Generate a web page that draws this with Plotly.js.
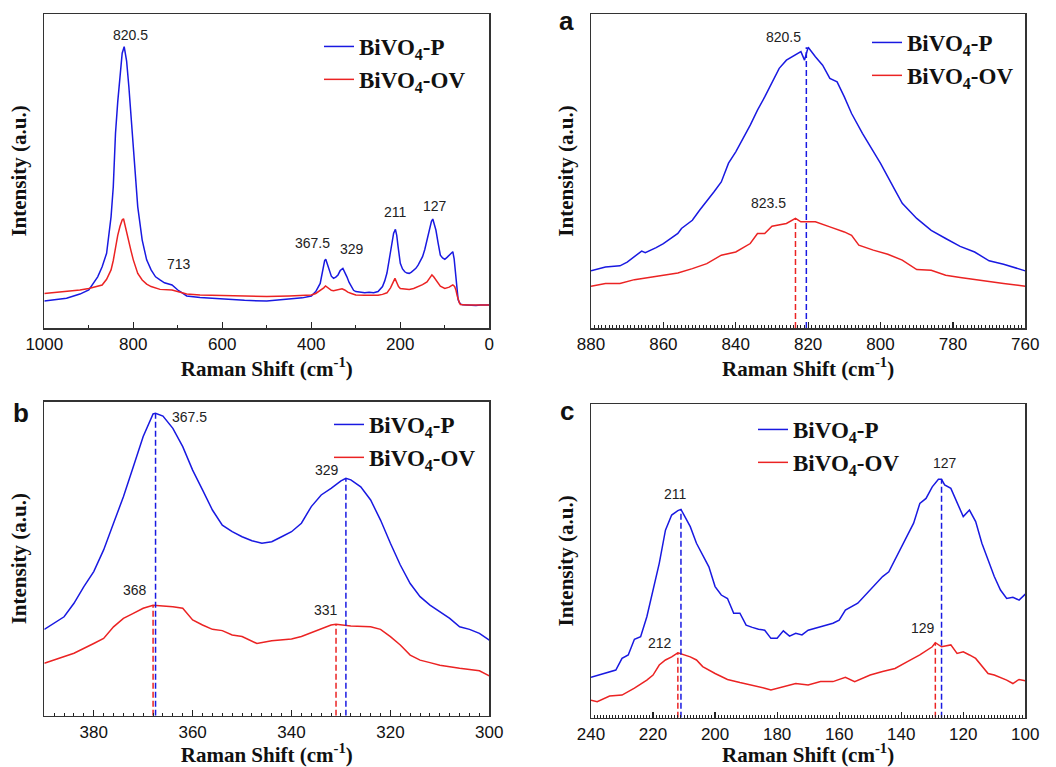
<!DOCTYPE html>
<html>
<head>
<meta charset="utf-8">
<script src="https://cdn.plot.ly/plotly-3.0.1.min.js"></script>
<style>html,body{margin:0;padding:0;background:#fff;}#chart{width:1056px;height:767px;}</style>
</head>
<body>
<div id="chart"></div>
<script>
// ---------- Data ----------
const seriesNames = ['BiVO<sub>4</sub>-P', 'BiVO<sub>4</sub>-OV'];

// Full spectrum (top-left)
const fullXP = [1000,950,920,900,880,870,860,850,845,840,835,830,825,820.5,815,810,805,800,795,790,780,770,760,750,740,730,713,700,690,680,650,600,550,500,450,420,400,390,380,375,370,367.5,362,355,350,345,340,335,329,325,320,315,310,305,300,290,280,270,260,250,240,235,230,225,220,215,211,208,205,200,195,190,185,180,175,170,165,160,155,150,145,140,135,130,127,124,120,115,110,105,100,95,90,85,82,79,76,73,70,67,64,60,50,40,30,20,10,0];
const fullP  = [8.6,9.5,10.8,12.1,16.3,19.5,23.8,35.4,45,62,72,81,87.5,89.6,85,76.9,67,56.7,47,38.6,28,21.7,18.5,16.3,15.3,14.4,13.7,12.1,11.2,10.2,9.7,9.2,8.8,8.6,9.1,9.6,10.2,11.6,14.2,18.5,21.5,21.9,19.5,16.5,15.8,16.2,16.9,18.3,19,18,16.3,14.5,13,12,11.6,11.3,11.2,11.4,11.2,11.6,13.2,15,17.5,21.7,26.5,30.2,31.4,29.5,25.9,20.6,18.8,17.9,17.5,17.4,17.8,18.3,19,20,21.3,22.7,25,28,31.5,34,34.7,33.5,31.2,27,23.2,22.3,21.9,22.5,23.2,23.8,24.3,22,17,12,9,8,7.6,7.4,7.3,7.3,7.2,7.3,7.3,7.3];
const fullXOV = [1000,950,920,900,880,870,860,850,845,840,835,830,825,822,820,815,810,805,800,795,790,780,770,760,740,713,700,680,650,600,550,500,450,400,390,380,372,368,362,355,350,340,331,325,318,310,300,280,260,250,240,230,222,216,212,208,204,200,190,180,170,160,150,140,134,129,125,120,115,110,100,90,85,82,78,75,72,70,67,65,60,50,0];
const fullOV  = [11,11.6,12.1,12.6,13.3,13.7,15.5,18.5,21.5,25.9,29.5,32.3,34.4,34.8,33.5,31,28,24.5,21.7,19.3,17.4,15.3,14,13.2,12.3,12.1,11.6,10.8,10.5,10.3,10.1,10,10.2,10.5,11,11.9,12.8,13.4,12.8,12,11.9,12.2,12.5,12.1,11.4,11,10.5,10.4,10.4,10.4,10.7,11.2,12.8,14.8,15.8,14.5,13.2,12.6,12.4,12.3,12.6,13.2,13.8,14.7,16,16.9,16.3,15.2,14.2,13.3,12.6,13,13.5,13.7,13.2,12.1,10.2,8.9,8,7.5,7.4,7.3,7.3];
const fullPeakLabels = ['820.5','713','367.5','329','211','127'];
const fullPeakLabelX = [807.4,697.3,398.4,308.5,209.7,122.1];
const fullPeakLabelY = [93.3,20.4,27.1,25.2,36.9,38.9];

// Panel a (880-760)
const aXP = [880,876,872,870,866,865,862,860,856,855,852,850,846,844,842,840,836,834,832,830,828,826,823,822,821,820,818,816,814,812,810,808,805,802,800,796,794,790,786,782,778,774,770,766,762,760];
const aP  = [18.2,19.4,19.8,21,24.5,24,25.6,26.9,30.1,31.7,34.3,37.5,43.4,46.5,52.5,56.1,64.6,69.4,73.6,78.1,82.7,85.3,87.5,88,85.3,89.4,86.4,83.7,79.5,78.4,73.6,68.3,62,56.1,52.4,43.9,39.7,34.9,31.1,28.5,26,24.2,21.4,20.3,18.9,18.2];
const aXOV = [880,876,872,868,864,860,856,852,848,844,840,836,834,832,830,826,823.5,822,818,814,810,808,806,802,798,794,790,786,782,778,774,770,766,762,760];
const aOV  = [13.3,14.2,14.2,15.4,16.1,16.8,17.5,18.9,20.5,23.2,24.2,26.9,30.1,30.1,32.4,33.3,34.9,33.8,33.8,32.2,30.6,29.5,26.4,24.8,23.5,21.6,18.6,18.4,16.8,16.1,15.4,14.7,14.2,13.6,13.3];
const aPeakXP = [820.5];  const aPeakYP = [89.4];
const aPeakXOV = [823.5]; const aPeakYOV = [34.9];
const aPeakLabels = ['820.5','823.5'];
const aPeakLabelX = [826.9,831];
const aPeakLabelY = [92.8,39.7];

// Panel b (390-300)
const bXP = [390,386,384,382,380,378,376,374,372,370,368,367.5,366,364,362,360,358,356,354,352,350,348,346,344,342,340,338,336,334,332,330,329,328,326,324,322,320,318,316,314,312,310,308,306,304,302,300];
const bP  = [27.5,31.5,35.8,41.1,45.9,52.8,61.3,69.7,79.3,88.9,96.1,96.3,95.4,91.5,85.7,78.2,71.9,65.5,60.7,58.6,57,55.7,54.9,55.4,57,58.6,61.3,66.6,70.3,72.4,74.8,75.6,75.1,72.9,68.7,62.3,54.9,48,42.1,37.9,35.2,33.1,31,28.3,27.5,26.2,24.1];
const bXOV = [390,386,384,380,378,376,374,372,370,368,366,364,362,360,358,356,354,352,350,348,347,344,340,338,336,334,332,331,328,324,322,320,318,316,314,312,310,306,302,300];
const bOV  = [16.7,18.8,19.9,23,24.6,28.3,31,32.6,34.2,35.2,35,34.7,34.2,30.5,28.9,27.5,27.1,25.7,25.2,23.9,23,23.9,24.4,25.2,26.4,27.5,28.9,29.1,28.6,28.3,27.5,25.2,22.5,19.3,17.7,16.9,16.1,15.1,14.3,12.7];
const bPeakXP = [367.5,329]; const bPeakYP = [96.3,75.6];
const bPeakXOV = [368,331];  const bPeakYOV = [35.2,29.1];
const bPeakLabels = ['367.5','329','368','331'];
const bPeakLabelX = [360.7,332.9,371.7,333.1];
const bPeakLabelY = [95.2,78.2,40,33.7];

// Panel c (240-100)
const cXP = [240,236,232,230,228,226,224,222,220,218,216,214,212,211,210,208,206,204,202,200,198,196,194,192,190,188,186,184,182,180,178,176,174,172,170,166,162,160,158,154,150,146,144,140,136,134,132,130,128,127,126,124,122,120,118,116,114,112,110,108,106,104,102,100];
const cP  = [12.9,14.1,15.2,18.9,20,25,25.8,32.2,40.7,49.2,59.8,64.6,66,66.4,64.6,60.9,55.6,51.9,48.1,41.8,39.1,38,33.3,33.3,29.5,28.8,28.2,27.9,25.3,25.3,27.7,26,26.9,26.4,27.9,29,30.1,31.1,34.3,36.5,40.7,45,46.5,54.5,62,68.3,69.9,73.6,76,76,74.2,73.1,68.3,64.1,66.2,62.5,55.6,50.3,45,40.7,38,38.4,37.5,39.4];
const cXOV = [240,238,234,230,226,222,220,218,216,214,212,210,208,206,204,200,196,192,188,184,182,178,174,170,166,162,158,155,150,146,142,138,134,130,129,127,124,122,120,118,116,112,110,106,104,102,100];
const cOV  = [5.6,5.1,6.9,7.2,9.4,12,13.6,16.8,18.4,19.4,20.7,20,19.4,18.4,16.3,14.1,12.2,11.2,10.4,9.4,8.8,9.9,10.9,10.4,11.5,11.5,12.9,11.5,13.6,14.7,15.7,17.9,20,22.6,23.9,22.6,23.2,20.5,21,20,18.9,14.1,13.6,12,10.9,12.2,11.8];
const cPeakXP = [211,127];  const cPeakYP = [66.4,76];
const cPeakXOV = [212,129]; const cPeakYOV = [20.7,23.9];
const cPeakLabels = ['211','127','212','129'];
const cPeakLabelX = [212.7,125.9,217.8,133.1];
const cPeakLabelY = [71.2,81.3,23.7,28.5];

const panelLetters = ['a','b','c'];

// ---------- Styles ----------
const BLUE = 'rgb(25,25,225)';
const RED = 'rgb(235,35,35)';
const serif = 'Liberation Serif';
const sans = 'Liberation Sans';

function curve(x, y, name, color, xa, ya, leg, group) {
  return {x, y, name, type:'scatter', mode:'lines', xaxis:xa, yaxis:ya,
    line:{color, width:1.5}, legend:leg, legendgroup:group, showlegend:true, hoverinfo:'skip'};
}
function drops(px, py, color, xa, ya) {
  const xs = [], ys = [];
  px.forEach((v,i)=>{ xs.push(v, v, null); ys.push(0, py[i], null); });
  return {x:xs, y:ys, type:'scatter', mode:'lines', xaxis:xa, yaxis:ya,
    line:{color, width:1.5, dash:'6px,3px'}, showlegend:false, hoverinfo:'skip'};
}

const traces = [
  curve(fullXP, fullP, seriesNames[0], BLUE, 'x', 'y', 'legend', 'g1'),
  curve(fullXOV, fullOV, seriesNames[1], RED, 'x', 'y', 'legend', 'g2'),
  curve(aXP, aP, seriesNames[0], BLUE, 'x2', 'y2', 'legend2', 'g1'),
  curve(aXOV, aOV, seriesNames[1], RED, 'x2', 'y2', 'legend2', 'g2'),
  drops(aPeakXOV, aPeakYOV, RED, 'x2', 'y2'),
  drops(aPeakXP, aPeakYP, BLUE, 'x2', 'y2'),
  curve(bXP, bP, seriesNames[0], BLUE, 'x3', 'y3', 'legend3', 'g1'),
  curve(bXOV, bOV, seriesNames[1], RED, 'x3', 'y3', 'legend3', 'g2'),
  drops(bPeakXOV, bPeakYOV, RED, 'x3', 'y3'),
  drops(bPeakXP, bPeakYP, BLUE, 'x3', 'y3'),
  curve(cXP, cP, seriesNames[0], BLUE, 'x4', 'y4', 'legend4', 'g1'),
  curve(cXOV, cOV, seriesNames[1], RED, 'x4', 'y4', 'legend4', 'g2'),
  drops(cPeakXOV, cPeakYOV, RED, 'x4', 'y4'),
  drops(cPeakXP, cPeakYP, BLUE, 'x4', 'y4')
];

function xaxis(domain, range, dtick, minorDtick, anchor) {
  return {domain, range, anchor, dtick, tick0:0, ticks:'inside', ticklen:6, tickwidth:1.2, tickcolor:'#222',
    minor:{dtick:minorDtick, ticks:'inside', ticklen:3, tickwidth:1, tickcolor:'#222', showgrid:false},
    showline:true, mirror:true, linecolor:'#333', linewidth:1.5, showgrid:false, zeroline:false,
    tickfont:{family:sans, size:17, color:'#111'},
    title:{text:'<b>Raman Shift (cm<sup>-1</sup>)</b>', font:{family:serif, size:21, color:'#111'}, standoff:3},
    automargin:false, fixedrange:true};
}
function yaxis(domain, anchor) {
  return {domain, range:[0,100], anchor, showticklabels:false, ticks:'', showline:true, mirror:true,
    linecolor:'#333', linewidth:1.5, showgrid:false, zeroline:false,
    title:{text:'<b>Intensity (a.u.)</b>', font:{family:serif, size:21, color:'#111'}, standoff:10},
    automargin:false, fixedrange:true};
}

const W = 1056, H = 767;
const dx1 = [44.3/W, 489.3/W], dx2 = [591/W, 1025.3/W];
const dyTop = [1-328/H, 1-14/H], dyB = [1-715.7/H, 1-401.7/H], dyC = [1-717.7/H, 1-404/H];

function legend(xpx, ypx) {
  return {x:xpx/W, y:1-ypx/H, xanchor:'left', yanchor:'top', bgcolor:'rgba(0,0,0,0)', borderwidth:0,
    font:{family:serif, size:23, color:'#111', weight:'bold'}, tracegroupgap:0, itemwidth:30};
}

function labels(texts, xs, ys, xa, ya) {
  return texts.map((t,i)=>({text:t, x:xs[i], y:ys[i], xref:xa, yref:ya, showarrow:false,
    xanchor:'center', yanchor:'middle', font:{family:sans, size:14, color:'#222'}}));
}

const annotations = [].concat(
  labels(fullPeakLabels, fullPeakLabelX, fullPeakLabelY, 'x', 'y'),
  labels(aPeakLabels, aPeakLabelX, aPeakLabelY, 'x2', 'y2'),
  labels(bPeakLabels, bPeakLabelX, bPeakLabelY, 'x3', 'y3'),
  labels(cPeakLabels, cPeakLabelX, cPeakLabelY, 'x4', 'y4'),
  [[566.7,21],[20.7,413],[566.7,411]].map((p,i)=>({text:'<b>'+panelLetters[i]+'</b>', x:p[0]/W, y:1-p[1]/H,
    xref:'paper', yref:'paper', xanchor:'center', yanchor:'middle', showarrow:false,
    font:{family:sans, size:26, color:'#111'}}))
);

const layout = {
  width:W, height:H, margin:{l:0, r:0, t:0, b:0}, paper_bgcolor:'#fff', plot_bgcolor:'#fff',
  font:{family:serif, color:'#111'},
  xaxis:xaxis(dx1, [1000,0], 200, 100, 'y'),
  yaxis:yaxis(dyTop, 'x'),
  xaxis2:xaxis(dx2, [880,760], 20, 1, 'y2'),
  yaxis2:yaxis(dyTop, 'x2'),
  xaxis3:xaxis(dx1, [390,300], 20, 2, 'y3'),
  yaxis3:yaxis(dyB, 'x3'),
  xaxis4:xaxis(dx2, [240,100], 20, 1, 'y4'),
  yaxis4:yaxis(dyC, 'x4'),
  legend:legend(319, 25),
  legend2:legend(867, 21),
  legend3:legend(329, 403),
  legend4:legend(753, 408),
  annotations,
  showlegend:true
};

Plotly.newPlot('chart', traces, layout, {displayModeBar:false, staticPlot:true});
</script>
</body>
</html>
